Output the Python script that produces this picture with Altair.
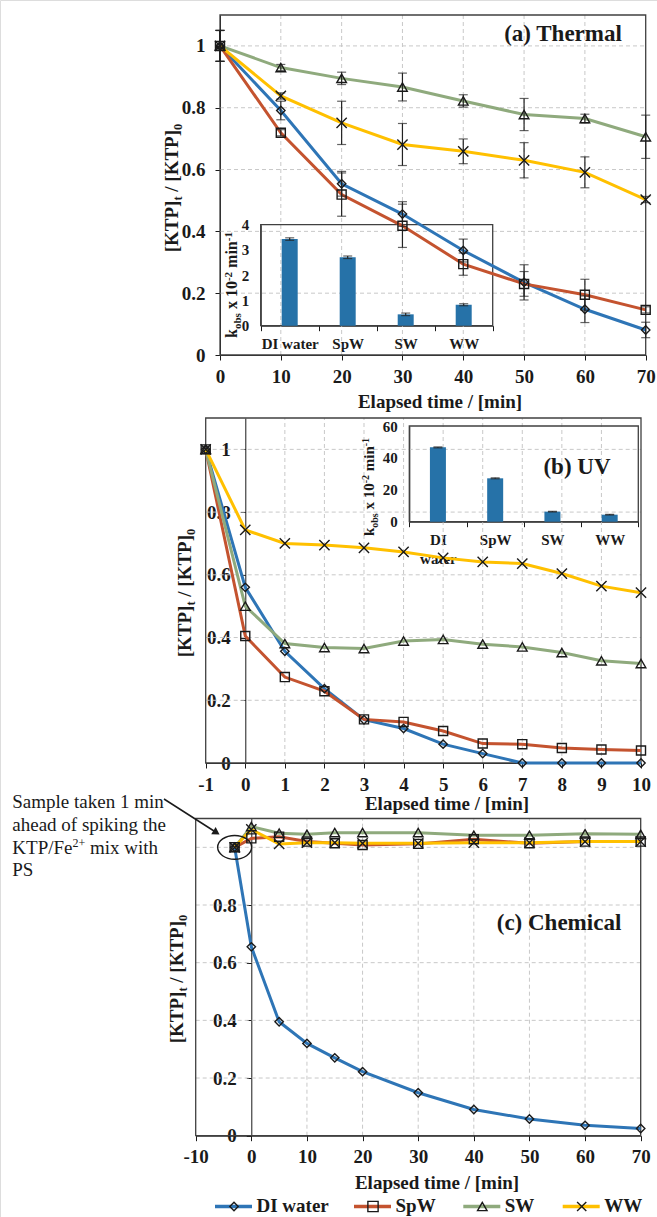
import altair as alt
import pandas as pd

W, H = 657, 1217
SERIF = "Liberation Serif"
INK = "#1a1a1a"
FRAME = "#404040"
GRID = "#c8c8c8"

SERIES = ["DI water", "SpW", "SW", "WW"]
COLORS = ["#2E75B6", "#C4532F", "#8FAA7D", "#FFC000"]
X_PATH = "M-1,-1L1,1M-1,1L1,-1"
SHAPES = ["diamond", "square", "triangle-up", X_PATH]
MARK_SIZES = [70, 105, 90, 85]
BAR_COLOR = "#2672A8"

# ---------------- (a) Thermal ----------------
a_time = [0, 10, 20, 30, 40, 50, 60, 70]
a_di = [1.0, 0.791, 0.554, 0.456, 0.338, 0.235, 0.148, 0.081]
a_spw = [1.0, 0.719, 0.519, 0.418, 0.294, 0.230, 0.195, 0.146]
a_sw = [1.0, 0.930, 0.895, 0.867, 0.822, 0.778, 0.765, 0.706]
a_ww = [1.0, 0.838, 0.751, 0.681, 0.659, 0.630, 0.591, 0.503]
a_di_err = [0.05, 0.03, 0.04, 0.04, 0.037, 0.057, 0.043, 0.025]
a_spw_err = [0.05, 0.01, 0.07, 0.07, 0.036, 0.04, 0.05, 0.01]
a_sw_err = [0.05, 0.01, 0.02, 0.045, 0.02, 0.052, 0.014, 0.07]
a_ww_err = [0.05, 0.01, 0.07, 0.068, 0.04, 0.057, 0.05, 0.01]
a_k = [3.43, 2.71, 0.45, 0.83]
a_k_err = [0.05, 0.05, 0.05, 0.04]

# ---------------- (b) UV ----------------
b_time = [-1, 0, 1, 2, 3, 4, 5, 6, 7, 8, 9, 10]
b_di = [1.0, 0.56, 0.356, 0.237, 0.138, 0.11, 0.06, 0.03, 0.0, 0.0, 0.0, 0.0]
b_spw = [1.0, 0.405, 0.274, 0.229, 0.139, 0.131, 0.102, 0.062, 0.06, 0.048, 0.043, 0.040]
b_sw = [1.0, 0.50, 0.381, 0.368, 0.365, 0.389, 0.394, 0.379, 0.37, 0.352, 0.326, 0.317]
b_ww = [1.0, 0.743, 0.700, 0.695, 0.686, 0.673, 0.654, 0.641, 0.636, 0.604, 0.564, 0.543]
b_k = [46.6, 27.2, 6.3, 4.4]
b_k_err = [0.3, 0.3, 0.2, 0.2]

# ---------------- (c) Chemical ----------------
c_time = [-3, 0, 5, 10, 15, 20, 30, 40, 50, 60, 70]
c_di = [1.0, 0.655, 0.395, 0.32, 0.27, 0.222, 0.149, 0.091, 0.058, 0.036, 0.025]
c_spw = [1.0, 1.031, 1.037, 1.02, 1.014, 1.008, 1.012, 1.028, 1.014, 1.02, 1.02]
c_sw = [1.0, 1.072, 1.049, 1.045, 1.051, 1.051, 1.051, 1.042, 1.042, 1.047, 1.045]
c_ww = [1.0, 1.062, 1.012, 1.016, 1.016, 1.014, 1.014, 1.016, 1.016, 1.02, 1.02]

# ---------------- ticks ----------------
a_xticks = [0, 10, 20, 30, 40, 50, 60, 70]
b_xticks = [-1, 0, 1, 2, 3, 4, 5, 6, 7, 8, 9, 10]
c_xticks = [-10, 0, 10, 20, 30, 40, 50, 60, 70]
main_yticks = [0, 0.2, 0.4, 0.6, 0.8, 1]
c_yticks = [0, 0.2, 0.4, 0.6, 0.8]
a_xgrid = [10, 20, 30, 40, 50, 60]
b_xgrid = [1, 2, 3, 4, 5, 6, 7, 8, 9]
c_xgrid = [10, 20, 30, 40, 50, 60]
ygrid = [0.2, 0.4, 0.6, 0.8, 1.0]
a_inset_yticks = [0, 1, 2, 3, 4]
b_inset_yticks = [0, 20, 40, 60]

# ---------------- layout (pixels) ----------------
GA = dict(x0=220, x1=645.7, y0=355, y1=15, xdom=[0, 70], ydom=[0, 1.1], yaxis_x=220)
GB = dict(x0=205.7, x1=641, y0=763, y1=418, xdom=[-1, 10], ydom=[0, 1.1], yaxis_x=245.3)
GC = dict(x0=195.7, x1=640.7, y0=1135.7, y1=818.5, xdom=[-10, 70], ydom=[0, 1.1], yaxis_x=251.3)
IA = dict(x0=260.7, x1=492.7, y0=325.7, y1=224.7, ydom=[0, 4])
IB = dict(x0=409.3, x1=638.3, y0=521.7, y1=426, ydom=[0, 60])

ONE = pd.DataFrame({"a": [0]})
cscale = alt.Scale(domain=SERIES, range=COLORS)
sscale = alt.Scale(domain=SERIES, range=SHAPES)
zscale = alt.Scale(domain=SERIES, range=MARK_SIZES)

TB = {' ': 250, '(': 333, ')': 333, '[': 333, ']': 333, '/': 278, '-': 333, '+': 570,
      'A': 722, 'C': 722, 'D': 722, 'E': 667, 'F': 611, 'I': 389, 'K': 778, 'P': 611,
      'S': 556, 'T': 667, 'W': 1000, 'a': 500, 'b': 556, 'c': 444, 'd': 556, 'e': 444,
      'h': 556, 'i': 278, 'k': 556, 'l': 278, 'm': 833, 'n': 556, 'o': 500, 'p': 556,
      'r': 444, 's': 389, 't': 333, 'w': 722, 'x': 500}
TR = {' ': 250, '/': 278, '+': 564, 'K': 722, 'T': 611, 'P': 556, 'F': 556, 'S': 556,
      'a': 444, 'e': 444, 'h': 500, 'i': 278, 'k': 500, 'm': 778, 'n': 500, 'p': 500,
      'w': 722, 'x': 500, 't': 278, 'l': 278, 'f': 333, 'o': 500, 'd': 500, 'g': 500, 's': 389}

PLAIN_LABEL = "'' + datum.value"


def tw(s, size, table):
    return sum(table.get(ch, 500) for ch in s) * size / 1000.0


def text(t, x, y, size, weight="bold", align="center", baseline="middle", angle=0):
    kw = dict(text=t, font=SERIF, fontSize=size, fontWeight=weight, align=align,
              baseline=baseline, color=INK)
    if angle:
        kw["angle"] = angle
    return alt.Chart(ONE).mark_text(**kw).encode(x=alt.value(x), y=alt.value(y))


def vtitle(parts, xbase, ycenter):
    """rotated (270) title built from pieces: (text, size, shift)."""
    total = sum(tw(t, sz, TB) for t, sz, sh in parts)
    y = ycenter + total / 2.0
    out = []
    for t, sz, sh in parts:
        lead = len(t) - len(t.lstrip())
        y_start = y - tw(t[:lead], sz, TB)
        out.append(text(t.strip(), xbase + sh, y_start, sz, align="left",
                        baseline="alphabetic", angle=270))
        y -= tw(t, sz, TB)
    return out


def long_df(times, cols, errs=None):
    rows = []
    for i, s in enumerate(SERIES):
        for j, t in enumerate(times):
            r = {"series": s, "t": t, "v": cols[i][j]}
            if errs is not None:
                r["lo"] = cols[i][j] - errs[i][j]
                r["hi"] = cols[i][j] + errs[i][j]
            rows.append(r)
    return pd.DataFrame(rows)


def main_scales(g):
    xs = alt.Scale(domain=g["xdom"], range=[g["x0"], g["x1"]], nice=False, zero=False)
    ys = alt.Scale(domain=g["ydom"], range=[g["y0"], g["y1"]], nice=False, zero=False)
    return xs, ys


def grid_layers(g, xgrid):
    xs, ys = main_scales(g)
    vg = pd.DataFrame({"g": xgrid, "lo": g["ydom"][0], "hi": g["ydom"][1]})
    hg = pd.DataFrame({"g": ygrid, "lo": g["xdom"][0], "hi": g["xdom"][1]})
    st = dict(color=GRID, strokeDash=[4, 3], strokeWidth=1)
    v = alt.Chart(vg).mark_rule(**st).encode(
        x=alt.X("g:Q", scale=xs, axis=None),
        y=alt.Y("lo:Q", scale=ys, axis=None), y2="hi:Q")
    h = alt.Chart(hg).mark_rule(**st).encode(
        y=alt.Y("g:Q", scale=ys, axis=None),
        x=alt.X("lo:Q", scale=xs, axis=None), x2="hi:Q")
    return [v, h]


def frame_axes(g, xticks, yticks):
    xs, ys = main_scales(g)
    df = pd.DataFrame({"x0": [g["xdom"][0]], "x1": [g["xdom"][1]],
                       "y0": [g["ydom"][0]], "y1": [g["ydom"][1]]})
    common = dict(labelFont=SERIF, labelFontSize=19, labelFontWeight="bold", labelColor=INK,
                  tickColor=INK, domainColor=INK, tickSize=5, grid=False, title=None,
                  labelFlush=False, labelOverlap=False, labelExpr=PLAIN_LABEL)
    xa = alt.Axis(orient="bottom", offset=g["y0"] - H, values=xticks,
                  labelPadding=7, **common)
    ya = alt.Axis(orient="left", offset=-g["yaxis_x"], values=yticks,
                  labelPadding=10, **common)
    return alt.Chart(df).mark_rect(fill="transparent", stroke=FRAME, strokeWidth=1.3).encode(
        x=alt.X("x0:Q", scale=xs, axis=xa), x2="x1:Q",
        y=alt.Y("y0:Q", scale=ys, axis=ya), y2="y1:Q")


def series_layers(g, df, with_err=False):
    xs, ys = main_scales(g)
    X = alt.X("t:Q", scale=xs, axis=None)
    out = [alt.Chart(df).mark_line(strokeWidth=3).encode(
        x=X, y=alt.Y("v:Q", scale=ys, axis=None),
        color=alt.Color("series:N", scale=cscale, legend=None))]
    if with_err:
        out.append(alt.Chart(df).mark_rule(color="#222", strokeWidth=1.2).encode(
            x=X, y=alt.Y("lo:Q", scale=ys, axis=None), y2="hi:Q"))
        caps = df.melt(id_vars=["series", "t"], value_vars=["lo", "hi"], value_name="c")
        out.append(alt.Chart(caps).mark_tick(orient="horizontal", size=9, thickness=1.2,
                                             color="#222").encode(
            x=X, y=alt.Y("c:Q", scale=ys, axis=None)))
    out.append(alt.Chart(df).mark_point(filled=False, strokeWidth=1.4, color=INK, opacity=1).encode(
        x=X, y=alt.Y("v:Q", scale=ys, axis=None),
        shape=alt.Shape("series:N", scale=sscale, legend=None),
        size=alt.Size("series:N", scale=zscale, legend=None)))
    return out


def inset_layers(ig, k, kerr, yticks, wrap=False):
    df = pd.DataFrame({"series": SERIES, "k": k,
                       "lo": [a - b for a, b in zip(k, kerr)],
                       "hi": [a + b for a, b in zip(k, kerr)]})
    xs = alt.Scale(domain=SERIES, range=[ig["x0"], ig["x1"]], paddingInner=0, paddingOuter=0)
    ys = alt.Scale(domain=ig["ydom"], range=[ig["y0"], ig["y1"]], nice=False, zero=False)
    common = dict(labelFont=SERIF, labelFontSize=15, labelFontWeight="bold", labelColor=INK,
                  tickColor=INK, domainColor=INK, grid=False, title=None)
    xkw = dict(orient="bottom", offset=ig["y0"] - H, labelAngle=0, tickBand="extent",
               tickSize=5, labelPadding=6, **common)
    if wrap:
        xkw["labelExpr"] = "split(datum.label, ' ')"
        xkw["labelLineHeight"] = 19
    xa = alt.Axis(**xkw)
    ya = alt.Axis(orient="left", offset=-ig["x0"], values=yticks, format="d", tickSize=0,
                  labelPadding=12, **common)
    frame = alt.Chart(ONE).mark_rect(fill="transparent", stroke=FRAME, strokeWidth=1.3).encode(
        x=alt.value(ig["x0"]), x2=alt.value(ig["x1"]), y=alt.value(ig["y1"]), y2=alt.value(ig["y0"]))
    bars = alt.Chart(df).mark_bar(width=16, color=BAR_COLOR).encode(
        x=alt.X("series:N", scale=xs, sort=SERIES, axis=xa),
        y=alt.Y("k:Q", scale=ys, axis=ya))
    rule = alt.Chart(df).mark_rule(color="#222", strokeWidth=1.2).encode(
        x=alt.X("series:N", scale=xs, sort=SERIES, axis=None),
        y=alt.Y("lo:Q", scale=ys, axis=None), y2="hi:Q")
    caps = df.melt(id_vars=["series"], value_vars=["lo", "hi"], value_name="c")
    capm = alt.Chart(caps).mark_tick(orient="horizontal", size=9, thickness=1.2, color="#222").encode(
        x=alt.X("series:N", scale=xs, sort=SERIES, axis=None),
        y=alt.Y("c:Q", scale=ys, axis=None))
    return [frame, bars, rule, capm]


df_a = long_df(a_time, [a_di, a_spw, a_sw, a_ww], [a_di_err, a_spw_err, a_sw_err, a_ww_err])
df_b = long_df(b_time, [b_di, b_spw, b_sw, b_ww])
df_c = long_df(c_time, [c_di, c_spw, c_sw, c_ww])

layers = []
layers += grid_layers(GA, a_xgrid) + grid_layers(GB, b_xgrid) + grid_layers(GC, c_xgrid)
layers += inset_layers(IA, a_k, a_k_err, a_inset_yticks)
layers += inset_layers(IB, b_k, b_k_err, b_inset_yticks, wrap=True)
layers += [frame_axes(GA, a_xticks, main_yticks), frame_axes(GB, b_xticks, main_yticks),
           frame_axes(GC, c_xticks, c_yticks)]
layers += series_layers(GA, df_a, with_err=True)
layers += series_layers(GB, df_b)
layers += series_layers(GC, df_c)

# circled pre-spike sample in (c)
xs_c, ys_c = main_scales(GC)
ELLIPSE = "M-1,0A1,0.7,0,1,1,1,0A1,0.7,0,1,1,-1,0Z"
circ_df = pd.DataFrame({"t": [c_time[0]], "v": [c_di[0]]})
layers.append(alt.Chart(circ_df).mark_point(shape=ELLIPSE, size=1156, filled=False, color=INK,
                                            strokeWidth=1.4, opacity=1).encode(
    x=alt.X("t:Q", scale=xs_c, axis=None), y=alt.Y("v:Q", scale=ys_c, axis=None)))

# panel labels
layers.append(text("(a) Thermal", 563, 34, 23))
layers.append(text("(b) UV", 577, 467, 23))
layers.append(text("(c) Chemical", 559, 923, 23))

# axis titles
XT = "Elapsed time / [min]"
layers.append(text(XT, 440, 401.5, 19))
layers.append(text(XT, 447, 804, 19))
layers.append(text(XT, 437, 1183, 19))
YT = [("[KTP]", 19, 0), ("t", 12.5, 4), (" / [KTP]", 19, 0), ("0", 12.5, 4)]
layers += vtitle(YT, 178, 188)
layers += vtitle(YT, 191, 593)
layers += vtitle(YT, 183, 979)
KT_A = [("k", 16, 0), ("obs", 11, 3.5), (" x 10", 16, 0), ("-2", 11, -5.5), (" min", 16, 0), ("-1", 11, -5.5)]
KT_B = [("k", 15, 0), ("obs", 10, 3.5), (" x 10", 15, 0), ("-2", 10, -5.0), (" min", 15, 0), ("-1", 10, -5.0)]
layers += vtitle(KT_A, 237, 285)
layers += vtitle(KT_B, 374, 487)

# annotation
AX = 12.3
layers.append(text("Sample taken 1 min", AX, 808, 19, weight="normal", align="left", baseline="alphabetic"))
layers.append(text("ahead of spiking the", AX, 831, 19, weight="normal", align="left", baseline="alphabetic"))
w1 = tw("KTP/Fe", 19, TR)
layers.append(text("KTP/Fe", AX, 853.5, 19, weight="normal", align="left", baseline="alphabetic"))
layers.append(text("2+", AX + w1, 846.5, 12, weight="normal", align="left", baseline="alphabetic"))
w2 = tw("2+", 12, TR) + tw(" ", 19, TR)
layers.append(text("mix with", AX + w1 + w2, 853.5, 19, weight="normal", align="left", baseline="alphabetic"))
layers.append(text("PS", AX, 876, 19, weight="normal", align="left", baseline="alphabetic"))
layers.append(alt.Chart(ONE).mark_rule(color=INK, strokeWidth=1.5).encode(
    x=alt.value(164), x2=alt.value(214), y=alt.value(799), y2=alt.value(831)))
layers.append(alt.Chart(ONE).mark_point(shape="triangle-right", angle=32, size=70, filled=True,
                                        color=INK, opacity=1).encode(
    x=alt.value(216.5), y=alt.value(832.5)))

# legend
LEG_Y = 1206.5
leg_start = [215, 354, 463.3, 562.7]
for i, s in enumerate(SERIES):
    x0 = leg_start[i]
    layers.append(alt.Chart(ONE).mark_rule(color=COLORS[i], strokeWidth=3.5).encode(
        x=alt.value(x0), x2=alt.value(x0 + 37), y=alt.value(LEG_Y)))
    layers.append(alt.Chart(ONE).mark_point(shape=SHAPES[i], size=MARK_SIZES[i], filled=False,
                                            color=INK, strokeWidth=1.4, opacity=1).encode(
        x=alt.value(x0 + 19), y=alt.value(LEG_Y)))
    layers.append(text(s, x0 + 41.5, 1212, 19, align="left", baseline="alphabetic"))

chart = alt.layer(*layers).resolve_scale(x="independent", y="independent").properties(
    width=W, height=H, autosize=alt.AutoSizeParams(type="none"), padding=0
).configure_view(stroke=None).configure(background="white")

chart.save("out.html", embed_options={"renderer": "svg", "actions": False})
